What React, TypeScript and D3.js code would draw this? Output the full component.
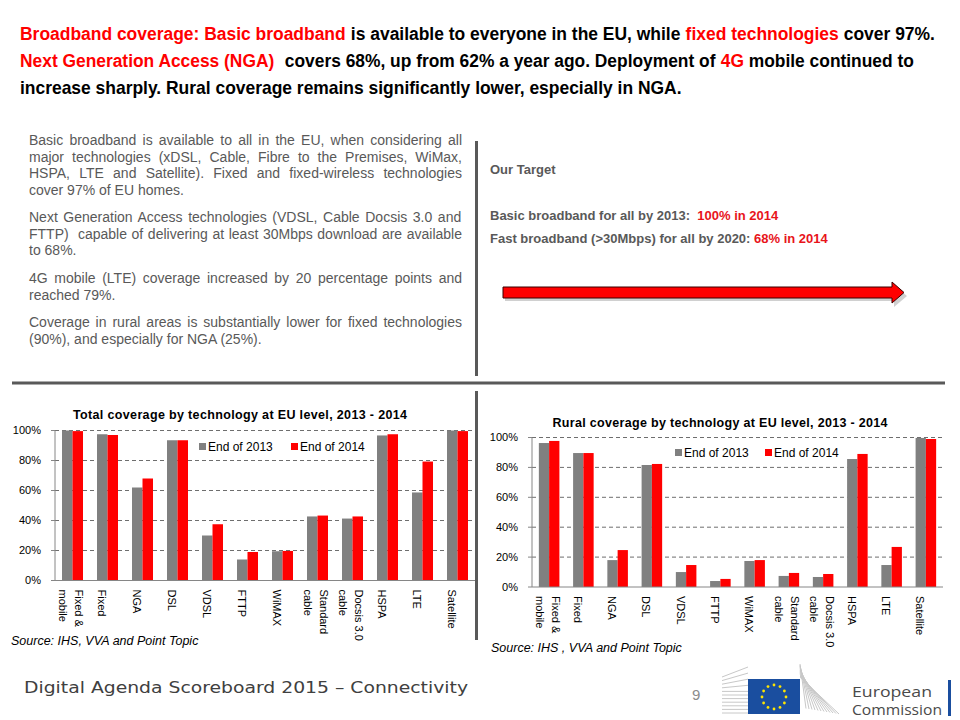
import React from "react";
import * as d3 from "d3";

// ---- data ----
const categories: string[][] = [
    ["Fixed &", "mobile"], ["Fixed"], ["NGA"], ["DSL"], ["VDSL"], ["FTTP"], ["WiMAX"],
    ["Standard", "cable"], ["Docsis 3.0", "cable"], ["HSPA"], ["LTE"], ["Satellite"]
];
const seriesNames = ["End of 2013", "End of 2014"];
const seriesColors = ["#808080", "#ff0000"];

const totalEnd2013 = [100, 97.5, 62, 93.5, 30, 14, 19.5, 42.7, 41.3, 96.7, 58.7, 100];
const totalEnd2014 = [99.6, 97, 68, 93.5, 37.5, 19, 19.7, 43.3, 42.7, 97.5, 79.3, 99.6];
const ruralEnd2013 = [96.3, 89.6, 18, 81.6, 10, 4, 17.4, 7.4, 6.7, 85.6, 14.7, 99.7];
const ruralEnd2014 = [97.7, 89.6, 24.7, 82.3, 14.7, 5.4, 18, 9.4, 8.7, 89, 26.8, 99];
const yTicks = [0, 20, 40, 60, 80, 100];

// headline: segments per line, [text, highlighted]
const headlineLines: { segs: [string, boolean][], width: number }[] = [
    {segs: [["Broadband coverage: Basic broadband", true], [" is available to everyone in the EU, while ", false],
        ["fixed technologies", true], [" cover 97%.", false]], width: 915},
    {segs: [["Next Generation Access (NGA)", true], ["  covers 68%, up from 62% a year ago. Deployment of ", false],
        ["4G", true], [" mobile continued to", false]], width: 894},
    {segs: [["increase sharply. Rural coverage remains significantly lower, especially in NGA.", false]], width: 662},
];

const paragraphLines: { text: string, justify: boolean, gap?: boolean }[] = [
    {text: "Basic broadband is available to all in the EU, when considering all", justify: true},
    {text: "major technologies (xDSL, Cable, Fibre to the Premises, WiMax,", justify: true},
    {text: "HSPA, LTE and Satellite). Fixed and fixed-wireless technologies", justify: true},
    {text: "cover 97% of EU homes.", justify: false},
    {text: "Next Generation Access technologies (VDSL, Cable Docsis 3.0 and", justify: true, gap: true},
    {text: "FTTP)  capable of delivering at least 30Mbps download are available", justify: true},
    {text: "to 68%.", justify: false},
    {text: "4G mobile (LTE) coverage increased by 20 percentage points and", justify: true, gap: true},
    {text: "reached 79%.", justify: false},
    {text: "Coverage in rural areas is substantially lower for fixed technologies", justify: true, gap: true},
    {text: "(90%), and especially for NGA (25%).", justify: false},
];

const RED = "#ff0000";
const GREY_TEXT = "#595959";
const SANS = "'Liberation Sans', Arial, sans-serif";
const PARA_WIDTH = 433;
const PARA_FONT = 14;
const HEAD_FONT = 18.5;

// canvas text width, used for justification and for laying out coloured headline runs
let measureCtx: CanvasRenderingContext2D | null = null;
function textWidth(text: string, font: string): number {
    if (!measureCtx) measureCtx = document.createElement("canvas").getContext("2d");
    if (!measureCtx) return text.length * 6;
    measureCtx.font = font;
    return measureCtx.measureText(text).width;
}

interface ChartProps {
    title: string;
    titleX: number;
    titleY: number;
    titleWidth: number;
    left: number;
    right: number;
    top: number;
    bottom: number;
    values: number[][];
    legendX: number[];
    legendY: number;
    source: string;
    sourceX: number;
    sourceY: number;
}

function BarChart(props: ChartProps): JSX.Element {
    const {title, titleX, titleY, titleWidth, left, right, top, bottom, values, legendX, legendY, source, sourceX, sourceY} = props;

    const x = d3.scaleBand<number>()
        .domain(d3.range(categories.length))
        .range([left, right])
        .paddingInner(0.4)
        .paddingOuter(0.2);
    const sub = d3.scaleBand<number>()
        .domain(d3.range(seriesNames.length))
        .range([0, x.bandwidth()]);
    const y = d3.scaleLinear().domain([0, 100]).range([bottom, top]);

    return (
        <g>
            <text x={titleX} y={titleY} textAnchor="middle" fontFamily={SANS} fontWeight="bold" fontSize={12.5}
                  fill="#000" textLength={titleWidth} lengthAdjust="spacing">{title}</text>

            {/* dashed gridlines */}
            {yTicks.filter(t => t > 0).map(t => (
                <line key={t} x1={left} x2={right} y1={y(t)} y2={y(t)} stroke="#6e6e6e" strokeWidth={1}
                      strokeDasharray="4,3"/>
            ))}

            {/* bars */}
            {values.map((series, si) => series.map((v, ci) => (
                <rect key={`${si}-${ci}`} x={(x(ci) || 0) + (sub(si) || 0)} y={y(v)} width={sub.bandwidth()}
                      height={y(0) - y(v)} fill={seriesColors[si]}/>
            )))}

            {/* axes */}
            <line x1={left} x2={left} y1={top} y2={bottom} stroke="#868686"/>
            <line x1={left} x2={right} y1={bottom} y2={bottom} stroke="#868686"/>
            {yTicks.map(t => (
                <g key={t}>
                    <line x1={left - 4} x2={left} y1={y(t)} y2={y(t)} stroke="#868686"/>
                    <text x={left - 14} y={y(t)} dy="0.35em" textAnchor="end" fontFamily={SANS} fontSize={11}
                          fill="#000">{t}%</text>
                </g>
            ))}

            {/* category labels, rotated */}
            {categories.map((lines, ci) => {
                const c = (x(ci) || 0) + x.bandwidth() / 2;
                const offs = lines.length === 1 ? [-9.5] : [2.5, -13.5];
                return lines.map((ln, li) => (
                    <text key={`${ci}-${li}`} transform={`translate(${c + offs[li]}, ${bottom + 9}) rotate(90)`}
                          fontFamily={SANS} fontSize={11} fill="#000">{ln}</text>
                ));
            })}

            {/* legend */}
            {seriesNames.map((name, si) => (
                <g key={name} transform={`translate(${legendX[si]}, ${legendY})`}>
                    <rect x={0} y={-4} width={7} height={7} fill={seriesColors[si]}/>
                    <text x={9} y={0} dy="0.35em" fontFamily={SANS} fontSize={12} fill="#000">{name}</text>
                </g>
            ))}

            <text x={sourceX} y={sourceY} fontFamily={SANS} fontStyle="italic" fontSize={12.5}
                  fill="#000">{source}</text>
        </g>
    );
}

function EuLogo(): JSX.Element {
    const cx = 774, cy = 697, r = 12;
    const stars = d3.range(12).map(i => {
        const a = (i / 12) * Math.PI * 2;
        return [cx + r * Math.sin(a), cy - r * Math.cos(a)];
    });
    const leftFan = d3.range(11);
    const rightFan = d3.range(12);
    const logoFont = "'Open Sans', 'Noto Sans', sans-serif";
    return (
        <g>
            {leftFan.map(i => (
                <path key={`l${i}`}
                      d={`M722,${713 - i * 3.6} L748,${713 - i * 3.6 - (i > 6 ? (i - 6) * 2.5 : 0)}`}
                      stroke="#c8c8c8" strokeWidth={1} fill="none"/>
            ))}
            {rightFan.map(i => (
                <path key={`r${i}`} d={`M800,${664 + i * 1.2} L${806 + i * 3},${714 - (11 - i) * 0.5}`}
                      stroke="#c8c8c8" strokeWidth={1} fill="none"/>
            ))}
            <rect x={748} y={679} width={52} height={35} fill="#1a4e9f"/>
            {stars.map(([sx, sy], i) => <circle key={i} cx={sx} cy={sy} r={1.4} fill="#ffe500"/>)}
            <text x={852} y={697} fontFamily={logoFont} fontSize={14} fill="#4a4a4a"
                  textLength={80} lengthAdjust="spacingAndGlyphs">European</text>
            <text x={852} y={715} fontFamily={logoFont} fontSize={14} fill="#4a4a4a"
                  textLength={90} lengthAdjust="spacingAndGlyphs">Commission</text>
            <rect x={948} y={680} width={3} height={36} fill="#1a4e9f"/>
        </g>
    );
}

export default function App(): JSX.Element {
    // paragraph baselines
    let py = 145;
    const paraY = paragraphLines.map((ln, i) => {
        if (i > 0) py += ln.gap ? 27.8 : 16.5;
        return py;
    });
    const paraFont = `${PARA_FONT}px 'Liberation Sans', Arial, sans-serif`;
    const wordSpacing = paragraphLines.map(ln => {
        if (!ln.justify) return 0;
        const spaces = (ln.text.match(/ /g) || []).length;
        return spaces ? (PARA_WIDTH - textWidth(ln.text, paraFont)) / spaces : 0;
    });

    const headFontCss = `bold ${HEAD_FONT}px 'Liberation Sans', Arial, sans-serif`;
    // headline lines: natural layout of the coloured runs, then the whole line squeezed horizontally
    const headLayout = headlineLines.map(line => {
        const natural = textWidth(line.segs.map(s => s[0]).join(""), headFontCss);
        let cx = 0;
        const runs = line.segs.map(([txt, hi]) => {
            const lead = txt.length - txt.trimStart().length;
            const run = {x: cx + textWidth(" ".repeat(lead), headFontCss), txt: txt.trim(), hi};
            cx += textWidth(txt, headFontCss);
            return run;
        });
        return {k: line.width / natural, runs};
    });

    return (
        <svg width={960} height={720} style={{position: "absolute", left: 0, top: 0, background: "#fff"}}
             viewBox="0 0 960 720">
            <rect x={0} y={0} width={960} height={720} fill="#fff"/>

            {/* headline */}
            <g fontFamily={SANS} fontWeight="bold" fontSize={HEAD_FONT}>
                {headLayout.map((line, li) => (
                    <g key={li} transform={`translate(20, ${39.5 + li * 27}) scale(${line.k}, 1)`}>
                        {line.runs.map((r, ri) => (
                            <text key={ri} x={r.x} y={0} fill={r.hi ? RED : "#000"}>{r.txt}</text>
                        ))}
                    </g>
                ))}
            </g>

            {/* body paragraph */}
            <g fontFamily={SANS} fontSize={PARA_FONT} fill={GREY_TEXT}>
                {paragraphLines.map((ln, i) => (
                    <text key={i} x={29} y={paraY[i]} style={{whiteSpace: "pre", wordSpacing: `${wordSpacing[i]}px`}}>
                        {ln.text}
                    </text>
                ))}
            </g>

            {/* target box */}
            <g fontFamily={SANS} fontWeight="bold" fontSize={13} fill={GREY_TEXT}>
                <text x={490} y={174}>Our Target</text>
                <text x={490} y={220} style={{whiteSpace: "pre"}}>
                    <tspan>Basic broadband for all by 2013:  </tspan>
                    <tspan fill="#e8141b">100% in 2014</tspan>
                </text>
                <text x={490} y={243} style={{whiteSpace: "pre"}}>
                    <tspan>Fast broadband (&gt;30Mbps) for all by 2020: </tspan>
                    <tspan fill="#e8141b">68% in 2014</tspan>
                </text>
            </g>

            {/* arrow with shadow */}
            <path d="M505,290 L894,290 L894,285 L907,296 L894,307 L894,301 L505,301 Z" fill="#b0b0b0"
                  opacity={0.6}/>
            <path d="M503,287 L892,287 L892,282 L904,292.5 L892,303 L892,298 L503,298 Z" fill="#ff0000"
                  stroke="#3a0000" strokeWidth={1}/>

            {/* dividers */}
            <line x1={476.5} x2={476.5} y1={141} y2={376} stroke="#595959" strokeWidth={3}/>
            <line x1={12} x2={945} y1={383} y2={383} stroke="#595959" strokeWidth={3}/>
            <line x1={476.5} x2={476.5} y1={391} y2={640} stroke="#595959" strokeWidth={3}/>

            <BarChart title="Total coverage by technology at EU level, 2013 - 2014" titleX={240} titleY={419}
                      titleWidth={334} left={55} right={475} top={430.5} bottom={580.5}
                      values={[totalEnd2013, totalEnd2014]} legendX={[199, 291]} legendY={447}
                      source="Source: IHS, VVA and Point Topic" sourceX={11} sourceY={645}/>
            <BarChart title="Rural coverage by technology at EU level, 2013 - 2014" titleX={720} titleY={427}
                      titleWidth={335} left={532} right={943} top={437.5} bottom={587}
                      values={[ruralEnd2013, ruralEnd2014]} legendX={[675, 765]} legendY={453}
                      source="Source: IHS , VVA and Point Topic" sourceX={491} sourceY={652}/>

            {/* footer */}
            <text x={24} y={693} fontFamily="'DejaVu Sans Condensed', 'DejaVu Sans', sans-serif" fontSize={15.5}
                  fill="#404040" textLength={444} lengthAdjust="spacingAndGlyphs">Digital Agenda Scoreboard 2015 – Connectivity</text>
            <text x={692} y={700} fontFamily={SANS} fontSize={15} fill="#8c8c8c">9</text>
            <EuLogo/>
        </svg>
    );
}
